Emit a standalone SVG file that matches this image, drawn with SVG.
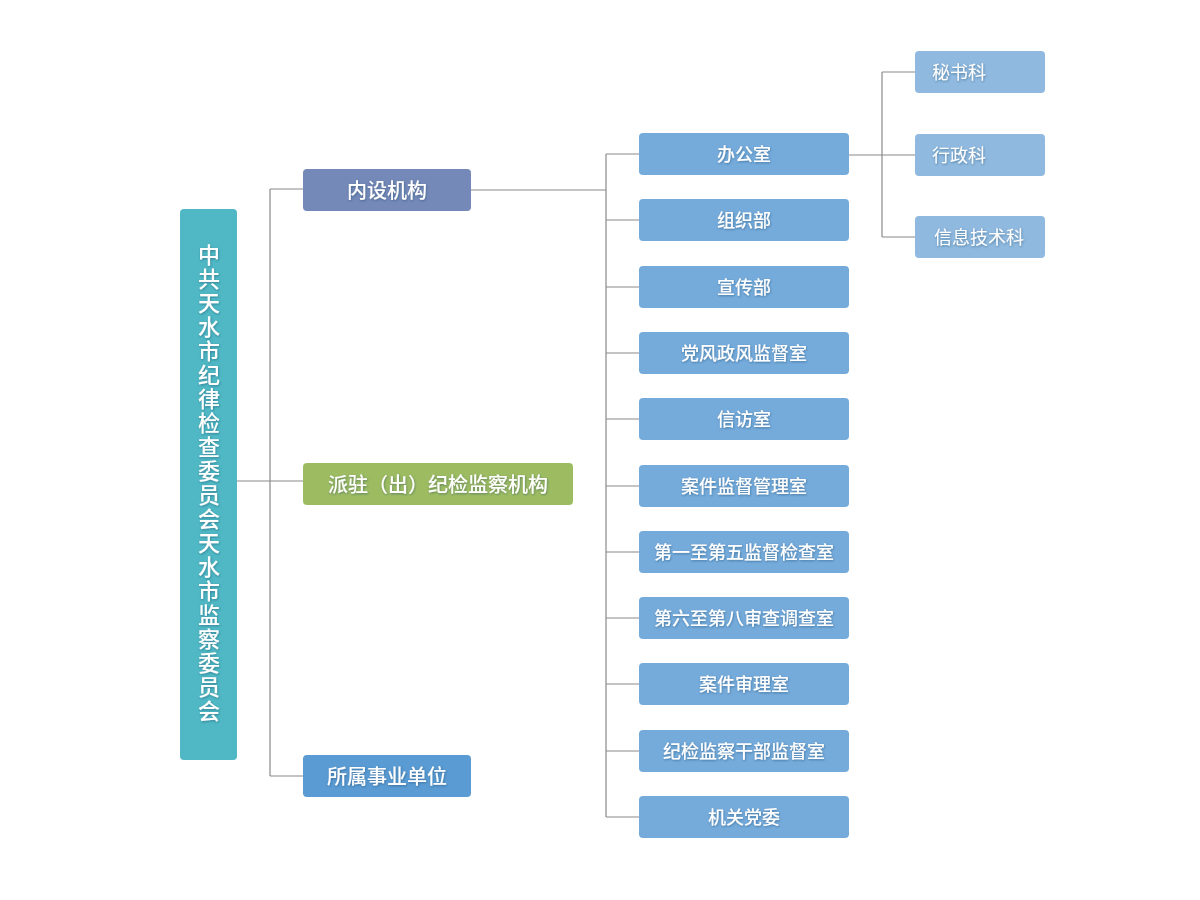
<svg xmlns="http://www.w3.org/2000/svg" width="1200" height="900" viewBox="0 0 1200 900">
<defs>
<filter id="ts" x="-10%" y="-30%" width="120%" height="160%">
<feDropShadow dx="0.6" dy="1" stdDeviation="0.8" flood-color="#1f3b5a" flood-opacity="0.45"/>
</filter>
</defs>
<style>
text{font-family:"Noto Sans CJK SC","Noto Sans",sans-serif;fill:#fff;filter:url(#ts)}
.l1{font-size:20px;font-weight:500;text-anchor:middle;dominant-baseline:central}
.l2{font-size:18px;font-weight:500;text-anchor:middle;dominant-baseline:central}
.l3{font-size:18px;font-weight:400;dominant-baseline:central}
.root{font-size:22px;font-weight:500;text-anchor:middle;writing-mode:vertical-rl;letter-spacing:2px}
.b2{fill:#75abdb}
.b3{fill:#8fb9df}
.conn{fill:none;stroke:#8a8a8a;stroke-width:1.2}
</style>
<rect width="1200" height="900" fill="#fff"/>
<g id="connectors" class="conn">
<path d="M237,481H270M270,189V776M270,189H303M270,481H303M270,776H303"/>
<path d="M471,190H606M606,154V817M606,154H639M606,220H639M606,287H639M606,353H639M606,419H639M606,486H639M606,552H639M606,618H639M606,684H639M606,751H639M606,817H639"/>
<path d="M849,155H882M882,72V237M882,72H915M882,155H915M882,237H915"/>
</g>
<g id="root">
<rect x="180" y="209" width="57" height="551" rx="4" fill="#4fb8c4"/>
<text class="root" x="209" y="484">中共天水市纪律检查委员会天水市监察委员会</text>
</g>
<g id="n-neishe"><rect x="303" y="169" width="168" height="42" rx="4" fill="#7489b8"/><text class="l1" x="387" y="189">内设机构</text></g>
<g id="n-paizhu"><rect x="303" y="463" width="270" height="42" rx="4" fill="#9dbc62"/><text class="l1" x="438" y="483">派驻（出）纪检监察机构</text></g>
<g id="n-suoshu"><rect x="303" y="755" width="168" height="42" rx="4" fill="#5a9bd3"/><text class="l1" x="387" y="775">所属事业单位</text></g>
<g id="n-bangongshi"><rect class="b2" x="639" y="133" width="210" height="42" rx="4"/><text class="l2" x="744" y="153">办公室</text></g>
<g id="n-zuzhibu"><rect class="b2" x="639" y="199" width="210" height="42" rx="4"/><text class="l2" x="744" y="219">组织部</text></g>
<g id="n-xuanchuanbu"><rect class="b2" x="639" y="266" width="210" height="42" rx="4"/><text class="l2" x="744" y="286">宣传部</text></g>
<g id="n-dangfeng"><rect class="b2" x="639" y="332" width="210" height="42" rx="4"/><text class="l2" x="744" y="352">党风政风监督室</text></g>
<g id="n-xinfang"><rect class="b2" x="639" y="398" width="210" height="42" rx="4"/><text class="l2" x="744" y="418">信访室</text></g>
<g id="n-anjianjiandu"><rect class="b2" x="639" y="465" width="210" height="42" rx="4"/><text class="l2" x="744" y="485">案件监督管理室</text></g>
<g id="n-jiandujiancha"><rect class="b2" x="639" y="531" width="210" height="42" rx="4"/><text class="l2" x="744" y="551">第一至第五监督检查室</text></g>
<g id="n-shenchadiaocha"><rect class="b2" x="639" y="597" width="210" height="42" rx="4"/><text class="l2" x="744" y="617">第六至第八审查调查室</text></g>
<g id="n-anjianshenli"><rect class="b2" x="639" y="663" width="210" height="42" rx="4"/><text class="l2" x="744" y="683">案件审理室</text></g>
<g id="n-ganbu"><rect class="b2" x="639" y="730" width="210" height="42" rx="4"/><text class="l2" x="744" y="750">纪检监察干部监督室</text></g>
<g id="n-jiguan"><rect class="b2" x="639" y="796" width="210" height="42" rx="4"/><text class="l2" x="744" y="816">机关党委</text></g>
<g id="n-mishu"><rect class="b3" x="915" y="51" width="130" height="42" rx="4"/><text class="l3" x="932" y="71">秘书科</text></g>
<g id="n-xingzheng"><rect class="b3" x="915" y="134" width="130" height="42" rx="4"/><text class="l3" x="932" y="154">行政科</text></g>
<g id="n-xinxi"><rect class="b3" x="915" y="216" width="130" height="42" rx="4"/><text class="l3" x="934" y="236">信息技术科</text></g>
</svg>
